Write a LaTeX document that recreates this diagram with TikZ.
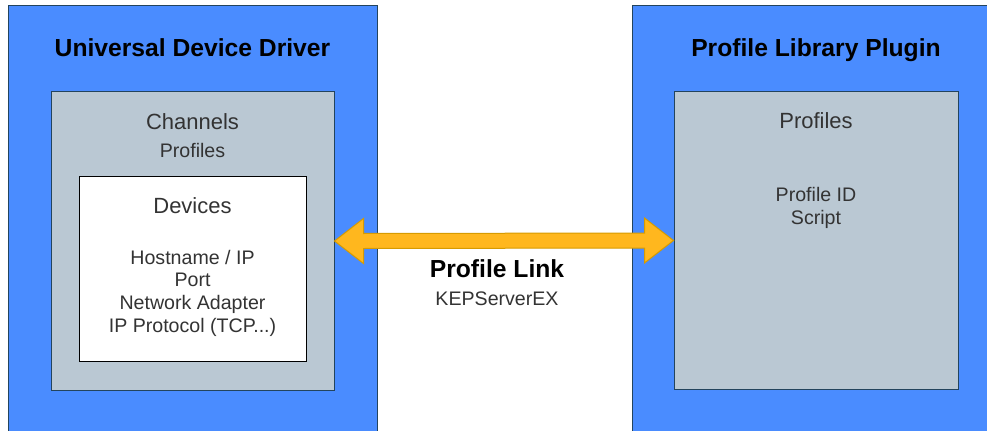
\documentclass[tikz,border=0pt]{standalone}
\usepackage{fontspec}
\setmainfont{Liberation Sans}
\usetikzlibrary{calc}
\definecolor{drvblue}{HTML}{4A8CFF}
\definecolor{chgrey}{HTML}{BAC8D3}
\definecolor{edgeblue}{HTML}{23445D}
\definecolor{linkfill}{HTML}{FFB71E}
\definecolor{linkedge}{HTML}{D79B00}
\definecolor{txtgrey}{HTML}{333333}
\tikzset{
	box/.style n args={2}{inner sep=0pt, minimum width=#1*0.75pt, minimum height=#2*0.75pt},
	panel/.style={draw=edgeblue, fill=drvblue, line width=0.75pt},
	chanbox/.style={draw=edgeblue, fill=chgrey, line width=0.75pt},
	devbox/.style={draw=black, fill=white, line width=0.75pt},
	title/.style={anchor=base, inner sep=0pt, font=\fontsize{18.5}{22}\selectfont\bfseries},
	head/.style={anchor=base, inner sep=0pt, text=txtgrey, font=\fontsize{16.5}{20}\selectfont},
	item/.style={anchor=base, inner sep=0pt, text=txtgrey, align=center, font=\fontsize{14.7}{17}\selectfont}
}
\begin{document}
\begin{tikzpicture}[x=0.75pt, y=-0.75pt]
		\clip (0,0) rectangle (987,431);
		\node[panel, box={369}{460}] (udd) at (192.5,236) {};
		\node[panel, box={370}{460}] (plp) at (817,236) {};
		\node[chanbox, box={283}{298}] (chan) at (192.5,241) {};
		\node[devbox, box={227}{185}] (dev) at (192.5,268.5) {};
		\node[chanbox, box={284}{297}] (prof) at (816,240.5) {};
		
		\path[draw=linkedge, line width=0.75pt, fill=linkfill]
			(chan.east) -- ($(chan.east)+(29,-22.5)$) -- ($(chan.east)+(29,-7.5)$)
			-- ($(prof.west)+(-29,-7.5)$) -- ($(prof.west)+(-29,-22.5)$) -- (prof.west)
			-- ($(prof.west)+(-29,22.5)$) -- ($(prof.west)+(-29,7.5)$)
			-- ($(chan.east)+(29,7.5)$) -- ($(chan.east)+(29,22.5)$) -- cycle;
		
		\node[title] (uddtitle) at (192.5,57) {Universal Device Driver};
		\node[title] (plptitle) at (816,57) {Profile Library Plugin};
		\node[head] (chantitle) at (192.5,129) {Channels};
		\node[item] (chanitems) at (192.5,157) {Profiles};
		\node[head] (devtitle) at (192.5,213) {Devices};
		\node[item] (devitems) at (192.5,332) {Hostname / IP\\Port\\Network Adapter\\IP Protocol (TCP...)};
		\node[head] (proftitle) at (816,128) {Profiles};
		\node[item] (profitems) at (816,224) {Profile ID\\Script};
		\node[title] (linktitle) at (497,277) {Profile Link};
		\node[item] (linkitems) at (497,305) {KEPServerEX};
	\end{tikzpicture}
\end{document}
